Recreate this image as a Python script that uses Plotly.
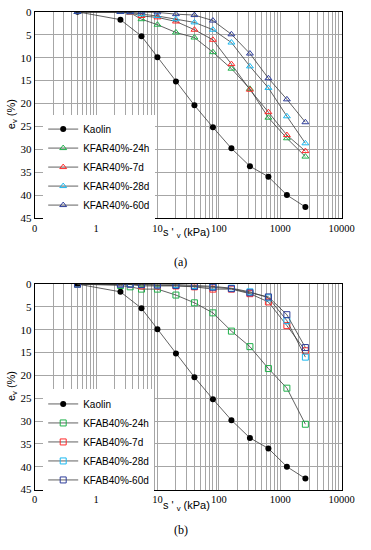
import plotly.graph_objects as go
from plotly.subplots import make_subplots

# ---------------- data ----------------
kaolin_load = [0.5, 2.5, 5.5, 10, 20, 40, 80, 160, 320, 640, 1280, 2560]
kaolin_ev = [0, 1.7, 5.3, 9.9, 15.2, 20.4, 25.2, 29.8, 33.7, 36.0, 40.0, 42.6]

mix_load = [0.5, 2.5, 3.6, 5.5, 10, 20, 40, 80, 160, 320, 640, 1280, 2560]

far_24h = [0, 0, 0.2, 1.6, 2.8, 4.5, 5.6, 8.8, 12.4, 16.8, 23.1, 27.6, 31.6]
far_7d = [0, 0, 0.2, 0.9, 1.2, 2.1, 3.9, 6.1, 11.4, 17.0, 21.9, 26.9, 30.4]
far_28d = [0, 0, 0.1, 0.5, 0.9, 1.6, 2.3, 3.9, 6.7, 11.9, 16.6, 22.8, 28.7]
far_60d = [0, 0, 0, 0, 0.1, 0.5, 0.7, 1.9, 4.9, 9.1, 14.5, 19.1, 24.1]

fab_24h = [0, 0.3, 0.6, 1.1, 1.1, 2.4, 4.1, 6.3, 10.3, 13.7, 18.5, 22.8, 30.7]
fab_7d = [0, 0, 0.1, 0.4, 0.4, 0.4, 0.6, 1.1, 1.1, 2.1, 3.9, 9.1, 14.6]
fab_28d = [0, 0, 0, 0.1, 0.2, 0.1, 0.3, 0.5, 0.9, 1.7, 3.0, 8.0, 16.0]
fab_60d = [0, 0, 0, 0.1, 0.2, 0.3, 0.5, 0.7, 1.0, 1.9, 2.8, 6.7, 13.9]

far_names = ["KFAR40%-24h", "KFAR40%-7d", "KFAR40%-28d", "KFAR40%-60d"]
fab_names = ["KFAB40%-24h", "KFAB40%-7d", "KFAB40%-28d", "KFAB40%-60d"]

x_tickvals = [0.1, 1, 10, 100, 1000, 10000]
x_ticktext = ["0", "1", "10", "100", "1000", "10000"]
y_tickvals = [0, 5, 10, 15, 20, 25, 30, 35, 40, 45]

colors = ["#1fb04a", "#ff2a2a", "#1ab8f0", "#2e3d9a"]
LINE = dict(color="#3a3a3a", width=0.8)
W, H = 371, 550

fig = make_subplots(rows=2, cols=1)

def add_panel(row, series, names, symbol, legend):
    fig.add_trace(go.Scatter(
        x=kaolin_load, y=kaolin_ev, name="Kaolin", mode="lines+markers",
        line=LINE, marker=dict(symbol="circle", size=6, color="black"),
        legend=legend), row=row, col=1)
    for s, n, c in zip(series, names, colors):
        fig.add_trace(go.Scatter(
            x=mix_load, y=s, name=n, mode="lines+markers", line=LINE,
            marker=dict(symbol=symbol, size=6, color=c, line=dict(width=1, color=c)),
            legend=legend), row=row, col=1)

add_panel(1, [far_24h, far_7d, far_28d, far_60d], far_names, "triangle-up-open", "legend")
add_panel(2, [fab_24h, fab_7d, fab_28d, fab_60d], fab_names, "square-open", "legend2")

minor_vals = [m * 10 ** e for e in range(-1, 4) for m in range(2, 10)]
GRID = "#a6a6a6"

xa = dict(type="log", range=[-1, 4], tickmode="array", tickvals=x_tickvals,
          ticktext=x_ticktext, showgrid=True, gridcolor=GRID, gridwidth=1,
          minor=dict(tickmode="array", tickvals=minor_vals, showgrid=True,
                     gridcolor=GRID, gridwidth=1, ticks=""),
          showline=True, linecolor="black", linewidth=1, mirror=True,
          ticks="", zeroline=False,
          tickfont=dict(family="Liberation Serif", size=10.5, color="black"))
ya = dict(range=[45, 0], tickmode="array", tickvals=y_tickvals,
          showgrid=True, gridcolor=GRID, gridwidth=1,
          showline=True, linecolor="black", linewidth=1, mirror=True,
          ticks="", zeroline=False,
          tickfont=dict(family="Liberation Serif", size=11, color="black"))

xl, xr = 33 / W, 354 / W
fig.update_layout(
    xaxis=dict(xa, domain=[xl, xr]),
    xaxis2=dict(xa, domain=[xl, xr]),
    yaxis=dict(ya, domain=[1 - 216.7 / H, 1 - 6 / H]),
    yaxis2=dict(ya, domain=[1 - 494.3 / H, 1 - 284.3 / H]),
)

leg = dict(bgcolor="white", borderwidth=0, xanchor="left", yanchor="top",
           font=dict(family="Liberation Sans", size=10, color="black"),
           itemwidth=30, tracegroupgap=0)
fig.update_layout(
    legend=dict(leg, x=42 / W, y=1 - 111 / H),
    legend2=dict(leg, x=42 / W, y=1 - 392 / H),
)

annots = []
for ytitle, yax, lab, ylab in [(232, 111, "(a)", 262), (511, 389, "(b)", 536)]:
    annots.append(dict(text="s ' <sub>v</sub> (kPa)", x=192 / W, y=1 - ytitle / H,
                       xref="paper", yref="paper", showarrow=False,
                       xanchor="center", yanchor="middle",
                       font=dict(family="Liberation Sans", size=11, color="black")))
    annots.append(dict(text="e<sub>v</sub> (%)", x=9 / W, y=1 - yax / H,
                       xref="paper", yref="paper", showarrow=False, textangle=-90,
                       xanchor="center", yanchor="middle",
                       font=dict(family="Liberation Sans", size=11, color="black")))
    annots.append(dict(text=lab, x=186 / W, y=1 - ylab / H,
                       xref="paper", yref="paper", showarrow=False,
                       xanchor="center", yanchor="middle",
                       font=dict(family="Liberation Serif", size=12, color="black")))

fig.update_layout(
    width=W, height=H, margin=dict(l=0, r=0, t=0, b=0),
    paper_bgcolor="white", plot_bgcolor="white",
    annotations=annots, showlegend=True,
)

fig.write_html("out.html", config={"displayModeBar": False},
               post_script="document.body.style.margin='0';document.body.style.overflow='hidden';")
